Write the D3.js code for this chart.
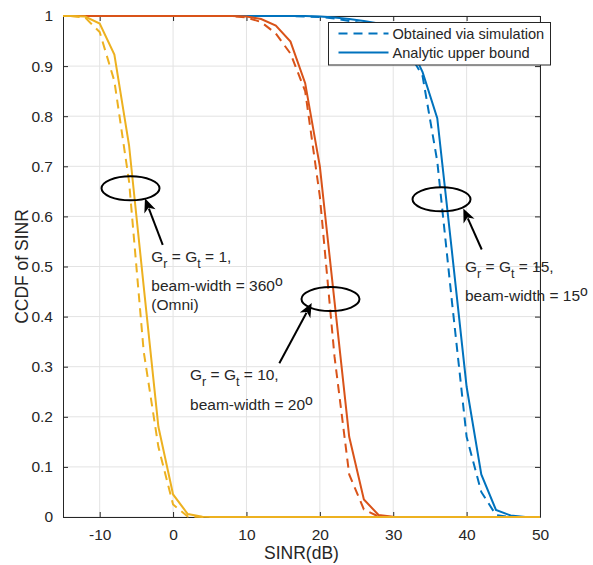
<!DOCTYPE html>
<html>
<head>
<meta charset="utf-8">
<script src="https://cdn.jsdelivr.net/npm/d3@7"></script>
<style>
  body { margin: 0; background: #fff; }
  text { font-family: "Liberation Sans", Arial, sans-serif; fill: #262626; }
</style>
</head>
<body>
<div id="chart"></div>
<script>
// SINR grid (dB) and CCDF values
var sinr = [-16,-14,-12,-10,-8,-6,-4,-2,0,2,4,6,8,10,12,14,16,18,20,22,24,26,28,30,32,34,36,38,40,42,44,46,48,50];

var omniSim   = [1,1,0.997,0.968,0.87,0.67,0.33,0.14,0.025,0.001,0,0,0,0,0,0,0,0,0,0,0,0,0,0,0,0,0,0,0,0,0,0,0,0];
var omniBound = [1,1,0.999,0.985,0.923,0.742,0.46,0.18,0.045,0.006,0.0005,0,0,0,0,0,0,0,0,0,0,0,0,0,0,0,0,0,0,0,0,0,0,0];

var bw20Sim   = [1,1,1,1,1,1,1,1,1,1,1,1,1,0.997,0.988,0.965,0.925,0.85,0.64,0.32,0.085,0.015,0.001,0,0,0,0,0,0,0,0,0,0,0];
var bw20Bound = [1,1,1,1,1,1,1,1,1,1,1,1,1,0.999,0.994,0.981,0.949,0.866,0.70,0.43,0.16,0.035,0.004,0.0003,0,0,0,0,0,0,0,0,0,0];

var bw15Sim   = [1,1,1,1,1,1,1,1,1,1,1,1,1,1,1,1,1,0.999,0.998,0.995,0.99,0.985,0.977,0.96,0.93,0.88,0.71,0.43,0.16,0.05,0.004,0,0,0];
var bw15Bound = [1,1,1,1,1,1,1,1,1,1,1,1,1,1,1,1,1,1,0.999,0.997,0.994,0.99,0.985,0.975,0.95,0.888,0.796,0.53,0.26,0.085,0.014,0.003,0,0];

var xTicks = [-10,0,10,20,30,40,50];
var yTicks = [0,0.1,0.2,0.3,0.4,0.5,0.6,0.7,0.8,0.9,1];
var legendLabels = ["Obtained via simulation", "Analytic upper bound"];

// annotations, in data units: ellipse centre, arrow tail -> tip, text anchor
var ellipses = [[-5.8,0.656],[21.45,0.435],[36.58,0.634]];
var arrows = [[-1.41,0.543,-3.83,0.636],[14.48,0.307,18.89,0.427],[42.06,0.534,39.55,0.616]];
var noteText = [
  {x:-2.97, y:0.509, gain:"1", beam:"360", extra:"(Omni)"},
  {x:2.31, y:0.273, gain:"10", beam:"20"},
  {x:39.78, y:0.49, gain:"15", beam:"15"}
];

var colors = ["#EDB120", "#D95319", "#0072BD"];

var options = {width: 593, height: 565, margin: {left: 63, right: 53, top: 16, bottom: 48}};
var w = options.width - options.margin.left - options.margin.right,
    h = options.height - options.margin.top - options.margin.bottom;

var svg = d3.select("#chart").append("svg")
  .attr("width", options.width).attr("height", options.height);

var g = svg.append("g")
  .attr("transform", "translate(" + options.margin.left + "," + options.margin.top + ")");

var xScale = d3.scaleLinear().domain([-15, 50]).range([0, w]);
var yScale = d3.scaleLinear().domain([0, 1]).range([h, 0]);

// grid
g.selectAll(".gx").data(xTicks).enter().append("line")
  .attr("x1", d => xScale(d)).attr("x2", d => xScale(d))
  .attr("y1", 0).attr("y2", h)
  .attr("stroke", "#e3e3e3").attr("stroke-width", 1);
g.selectAll(".gy").data(yTicks).enter().append("line")
  .attr("y1", d => yScale(d)).attr("y2", d => yScale(d))
  .attr("x1", 0).attr("x2", w)
  .attr("stroke", "#e3e3e3").attr("stroke-width", 1);

svg.append("clipPath").attr("id", "clip")
  .append("rect").attr("x", 0).attr("y", -2).attr("width", w).attr("height", h + 4);

var line = d3.line().x((d, i) => xScale(sinr[i])).y(d => yScale(d));

var series = [
  {v: bw15Sim, c: colors[2], dash: true},
  {v: bw15Bound, c: colors[2], dash: false},
  {v: bw20Sim, c: colors[1], dash: true},
  {v: bw20Bound, c: colors[1], dash: false},
  {v: omniSim, c: colors[0], dash: true},
  {v: omniBound, c: colors[0], dash: false}
];

var plot = g.append("g").attr("clip-path", "url(#clip)");
plot.selectAll("path").data(series).enter().append("path")
  .attr("d", d => line(d.v))
  .attr("fill", "none")
  .attr("stroke", d => d.c)
  .attr("stroke-width", 2)
  .attr("stroke-dasharray", d => d.dash ? "9,6" : null);

// axes box with inward ticks
var axisColor = "#262626";
var fmt = d => String(d);   // plain hyphen for negatives, like the original
var xAxisB = d3.axisBottom(xScale).tickValues(xTicks).tickSizeInner(-5).tickSizeOuter(0).tickPadding(12).tickFormat(fmt);
var xAxisT = d3.axisTop(xScale).tickValues(xTicks).tickSizeInner(-5).tickSizeOuter(0).tickFormat("");
var yAxisL = d3.axisLeft(yScale).tickValues(yTicks).tickSizeInner(-5).tickSizeOuter(0).tickPadding(10).tickFormat(fmt);
var yAxisR = d3.axisRight(yScale).tickValues(yTicks).tickSizeInner(-5).tickSizeOuter(0).tickFormat("");

var axB = g.append("g").attr("transform", "translate(0," + h + ")").call(xAxisB);
var axT = g.append("g").call(xAxisT);
var axL = g.append("g").call(yAxisL);
var axR = g.append("g").attr("transform", "translate(" + w + ",0)").call(yAxisR);
[axB, axT, axL, axR].forEach(function(a) {
  a.select(".domain").attr("stroke", axisColor).attr("stroke-width", 1);
  a.selectAll(".tick line").attr("stroke", axisColor);
  a.selectAll(".tick text").attr("font-size", 15.5).attr("fill", axisColor)
    .style("font-family", '"Liberation Sans", Arial, sans-serif');
});
// the curves sit over the axis line (yellow runs along the bottom)
plot.raise();

g.append("text").attr("x", w / 2).attr("y", h + 42)
  .attr("text-anchor", "middle").attr("font-size", 17.5).text("SINR(dB)");
g.append("text").attr("transform", "translate(-35," + (h / 2) + ") rotate(-90)")
  .attr("text-anchor", "middle").attr("font-size", 17.5).text("CCDF of SINR");

// annotations
var ann = g.append("g");
ann.selectAll("ellipse").data(ellipses).enter().append("ellipse")
  .attr("cx", d => xScale(d[0])).attr("cy", d => yScale(d[1]))
  .attr("rx", 29).attr("ry", 12)
  .attr("fill", "none").attr("stroke", "#000").attr("stroke-width", 2);

arrows.forEach(function(a) {
  var x1 = xScale(a[0]), y1 = yScale(a[1]), x2 = xScale(a[2]), y2 = yScale(a[3]);
  var ang = Math.atan2(y2 - y1, x2 - x1), hl = 14, hw = 6;
  var bx = x2 - hl * Math.cos(ang), by = y2 - hl * Math.sin(ang);
  ann.append("line").attr("x1", x1).attr("y1", y1).attr("x2", bx + 3 * Math.cos(ang)).attr("y2", by + 3 * Math.sin(ang))
    .attr("stroke", "#000").attr("stroke-width", 2);
  var p = [[x2, y2],
           [bx - hw * Math.sin(ang), by + hw * Math.cos(ang)],
           [bx + 4 * Math.cos(ang), by + 4 * Math.sin(ang)],
           [bx + hw * Math.sin(ang), by - hw * Math.cos(ang)]];
  ann.append("path").attr("d", "M" + p.join("L") + "Z").attr("fill", "#000");
});

noteText.forEach(function(n) {
  var tx = xScale(n.x), ty = yScale(n.y);
  var t1 = ann.append("text").attr("x", tx).attr("y", ty).attr("font-size", 15.5);
  t1.append("tspan").text("G");
  t1.append("tspan").attr("dy", 6).attr("font-size", 12.5).text("r");
  t1.append("tspan").attr("dy", -6).text(" = G");
  t1.append("tspan").attr("dy", 6).attr("font-size", 12.5).text("t");
  t1.append("tspan").attr("dy", -6).text(" = " + n.gain + ",");
  var t2 = ann.append("text").attr("x", tx).attr("y", ty + 29.5).attr("font-size", 15.5);
  t2.append("tspan").text("beam-width = " + n.beam);
  t2.append("tspan").attr("dy", -5).attr("font-size", 14).text("o");
  if (n.extra) {
    ann.append("text").attr("x", tx).attr("y", ty + 48).attr("font-size", 15.5).text(n.extra);
  }
});

// legend
var lg = svg.append("g").attr("transform", "translate(328.5,22.5)");
lg.append("rect").attr("width", 222).attr("height", 42.5)
  .attr("fill", "#fff").attr("stroke", axisColor).attr("stroke-width", 1);
lg.selectAll(".li").data(legendLabels).enter().append("line")
  .attr("x1", 10).attr("x2", 60)
  .attr("y1", (d, i) => 11 + i * 19).attr("y2", (d, i) => 11 + i * 19)
  .attr("stroke", colors[2]).attr("stroke-width", 2)
  .attr("stroke-dasharray", (d, i) => i === 0 ? "9,6" : null);
lg.selectAll(".lt").data(legendLabels).enter().append("text")
  .attr("x", 64).attr("y", (d, i) => 16.5 + i * 19)
  .attr("font-size", 14.6).text(d => d);
</script>
</body>
</html>
